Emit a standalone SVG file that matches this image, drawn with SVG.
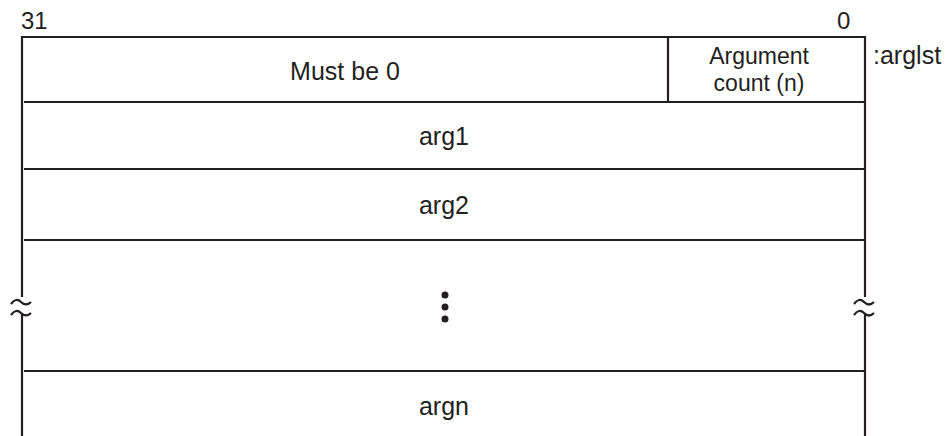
<svg xmlns="http://www.w3.org/2000/svg" width="952" height="436" viewBox="0 0 952 436">
<style>
text{font-family:"Liberation Sans",Arial,sans-serif;font-size:25px;fill:#231f20}
.m{text-anchor:middle}
.s{font-size:24px}
.t{font-size:23px}
.l{stroke:#231f20;stroke-width:2.2;fill:none}
</style>
<rect width="952" height="436" fill="#fff"/>
<g id="frame">
<path class="l" d="M22,436 V313 M22,297 V37 H865 V297 M865,313 V436"/>
<path class="l" d="M11,304 q5,-7 10,-2 t10,0 M11,315 q5,-7 10,-2 t10,0"/>
<path class="l" d="M854,304 q5,-7 10,-2 t10,0 M854,315 q5,-7 10,-2 t10,0"/>
<path class="l" d="M24,102 H865 M668,37 V102 M24,169 H865 M24,240 H865 M24,371 H865"/>
</g>
<g id="labels">
<text class="s" x="21" y="29">31</text>
<text class="s" x="837" y="29">0</text>
<text x="873" y="64">:arglst</text>
</g>
<g id="row0"><text class="m" x="345" y="80">Must be 0</text>
<text class="m t" x="759" y="64">Argument</text><text class="m t" x="759" y="90.5">count (n)</text></g>
<g id="row1"><text class="m" x="444" y="145">arg1</text></g>
<g id="row2"><text class="m" x="444" y="214">arg2</text></g>
<g id="dots" fill="#231f20"><circle cx="445" cy="295" r="3.5"/><circle cx="445" cy="307" r="3.5"/><circle cx="445" cy="319" r="3.5"/></g>
<g id="rown"><text class="m" x="444" y="415">argn</text></g>
</svg>
